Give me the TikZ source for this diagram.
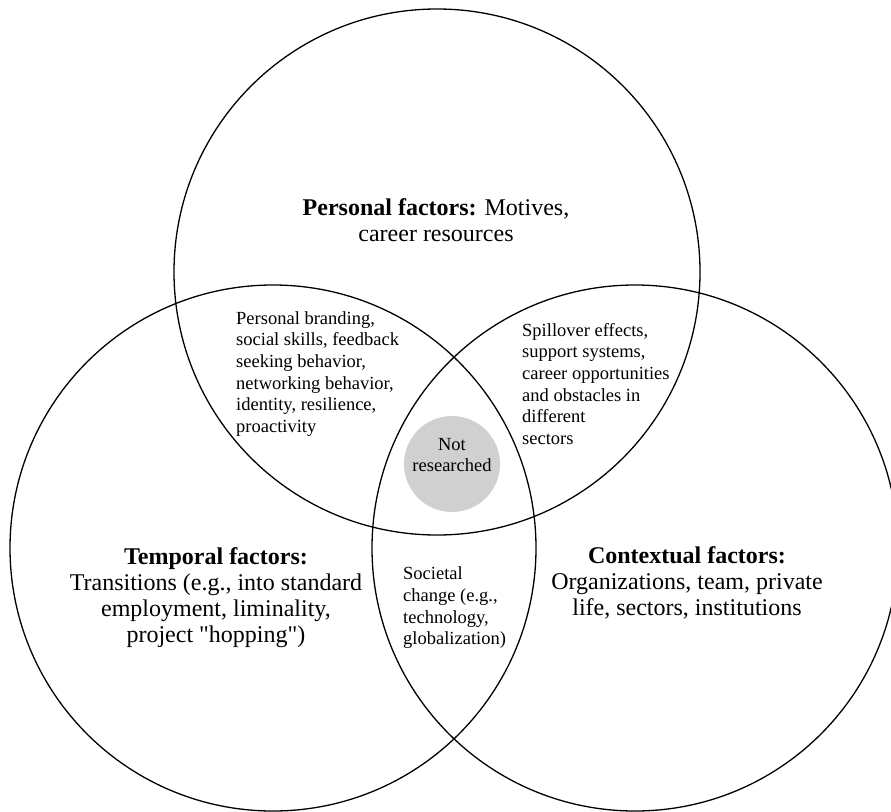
\documentclass[tikz,border=0pt]{standalone}
\usepackage{fontspec}
\setmainfont{Liberation Serif}
\usepackage{tikz}
\definecolor{notgray}{RGB}{208,208,208}

\begin{document}
\begin{tikzpicture}[x=1pt,y=-1pt,
    every node/.style={inner sep=0pt},
    bigtxt/.style={font=\fontsize{24}{26}\selectfont, align=center},
    smalltxt/.style={font=\fontsize{18.5}{21.7}\selectfont, align=left, anchor=west},
    setline/.style={line width=1.3pt}]
    \useasboundingbox (0,0) rectangle (891,811);
    \clip (0,0) rectangle (891,811);
    % Circles
        \draw[setline] (437,272) circle[radius=263pt];
        \draw[setline] (273,548) circle[radius=263pt];
        \draw[setline] (635,548) circle[radius=263pt];
        \fill[notgray] (452,464) circle[radius=48pt];
    % Main factors
        \node[bigtxt] (personal) at (436,220) {\textbf{Personal factors:} Motives,\\career resources};
        \node[bigtxt] (temporal) at (216,598) {\textbf{Temporal factors:}\\Transitions (e.g., into standard\\employment, liminality,\\project \textquotedbl hopping\textquotedbl)};
        \node[bigtxt] (contextual) at (687,583) {\textbf{Contextual factors:}\\Organizations, team, private\\life, sectors, institutions};
    % Overlaps
        \node[smalltxt] (perstemp) at (236,374) {Personal branding,\\social skills, feedback\\seeking behavior,\\networking behavior,\\identity, resilience,\\proactivity};
        \node[smalltxt] (perscont) at (522,384) {Spillover effects,\\support systems,\\career opportunities\\and obstacles in\\different\\sectors};
        \node[smalltxt] (tempcont) at (403,608) {Societal\\change (e.g.,\\technology,\\globalization)};
        \node[smalltxt, anchor=center, align=center] (notres) at (452,455) {Not\\researched};
    \end{tikzpicture}
\end{document}
